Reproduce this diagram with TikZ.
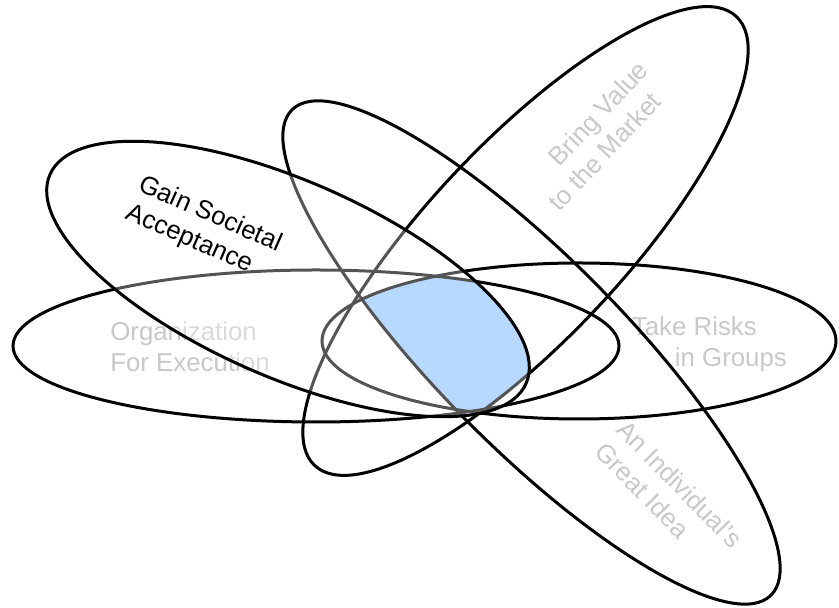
\documentclass[tikz,border=0pt]{standalone}
\usepackage{fontspec}
\setmainfont{Liberation Sans}

\definecolor{coreblue}{RGB}{149,199,255}
\definecolor{labelgray}{RGB}{200,200,200}

\begin{document}
\begin{tikzpicture}[
  x=0.02cm, y=0.02cm,
  font=\fontsize{14.7}{17.6}\selectfont,
  petal/.style={line width=0.06cm, draw=black},
  lbl/.style={text=labelgray, align=left, inner sep=0pt},
  gainrot/.style={rotate around={-23.7:(288,329)}},
  bringrot/.style={rotate around={46.8:(525.5,367)}},
  idearot/.style={rotate around={-45.4:(531.5,255.5)}}
]
\useasboundingbox (0,0) rectangle (839,608);

% labels under the outlines
\node[lbl] (org) at (190,261) {Organization\\For Execution};
\node[lbl] (risk) at (709.4,263.3) {Take Risks\\\hspace*{0.86cm}in Groups};
\node[lbl, rotate=46.8] (bring) at (598,472) {\hspace*{0.66cm}Bring Value\\to the Market};
\node[lbl, rotate=-45.4] (idea) at (669,112.8) {An Individual's\\Great Idea};

% common core
\begin{scope}
  \clip (316,262) ellipse [x radius=303, y radius=76];
  \clip (579,267) ellipse [x radius=257, y radius=78];
  \clip[bringrot] (525.5,367) ellipse [x radius=308, y radius=98];
  \clip[idearot] (531.5,255.5) ellipse [x radius=341, y radius=94];
  \fill[coreblue, gainrot] (288,329) ellipse [x radius=260, y radius=98];
\end{scope}

% petals
\draw[petal] (316,262) ellipse [x radius=303, y radius=76];
\draw[petal] (579,267) ellipse [x radius=257, y radius=78];
\draw[petal, bringrot] (525.5,367) ellipse [x radius=308, y radius=98];
\draw[petal, idearot] (531.5,255.5) ellipse [x radius=341, y radius=94];
\filldraw[petal, fill=white, fill opacity=0.33, gainrot] (288,329) ellipse [x radius=260, y radius=98];

\node[lbl, text=black, rotate=-23.7] (gain) at (204,379) {Gain Societal\\Acceptance};
\end{tikzpicture}
\end{document}
